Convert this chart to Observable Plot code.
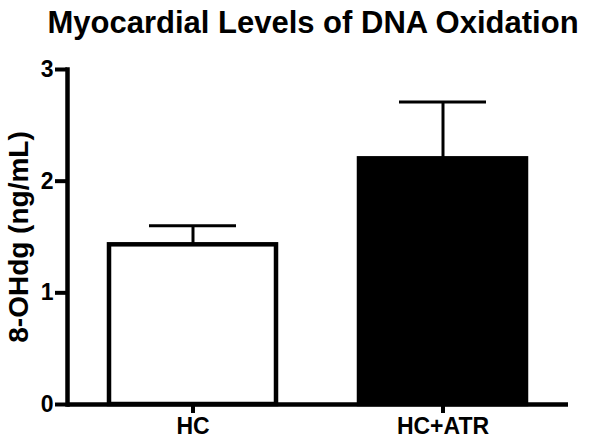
<!DOCTYPE html>
<html>
<head>
<meta charset="utf-8">
<script src="https://cdn.jsdelivr.net/npm/d3@7"></script>
<script src="https://cdn.jsdelivr.net/npm/@observablehq/plot@0.6"></script>
<style>
  html, body { margin: 0; padding: 0; background: #fff; }
  #chart svg { display: block; }
</style>
</head>
<body>
<div id="chart"></div>
<script>
const titleText = "Myocardial Levels of DNA Oxidation";
const yLabel = "8-OHdg (ng/mL)";
const categories = ["HC", "HC+ATR"];
const means = [1.43, 2.20];
const errors = [0.17, 0.51];
const barFills = ["white", "black"];
const yTicks = [0, 1, 2, 3];

const data = categories.map((c, i) => ({
  group: c,
  mean: means[i],
  upper: means[i] + errors[i],
  fill: barFills[i]
}));

const chart = Plot.plot({
  width: 596,
  height: 443,
  marginTop: 69,
  marginBottom: 39,
  marginLeft: 67,
  marginRight: 28,
  style: { fontFamily: "'Liberation Sans', Arial, Helvetica, sans-serif", fontWeight: "bold", fontSize: "22px", color: "black", background: "white" },
  x: { domain: categories, paddingInner: 0.33, paddingOuter: 0.167 },
  y: { domain: [0, 3] },
  color: { type: "identity" },
  marks: [
    Plot.barY(data, { x: "group", y: "mean", fill: "fill", stroke: "black", strokeWidth: 4.5 }),
    Plot.ruleX(data, { x: "group", y1: "mean", y2: "upper", stroke: "black", strokeWidth: 3 }),
    Plot.tickY(data, { x: "group", y: "upper", stroke: "black", strokeWidth: 3, insetLeft: 40, insetRight: 40 }),
    Plot.ruleY([0], { stroke: "black", strokeWidth: 4.5 }),
    Plot.frame({ anchor: "left", stroke: "black", strokeWidth: 4.5 }),
    Plot.axisY({ ticks: yTicks, tickFormat: "d", tickSize: 12, tickPadding: 2, strokeWidth: 4, fontSize: 23, label: null }),
    Plot.axisX({ tickSize: 9, tickPadding: 4, strokeWidth: 4, fontSize: 23, label: null }),
    Plot.text([yLabel], { frameAnchor: "left", textAnchor: "middle", rotate: -90, dx: -48, dy: 0, fontSize: 28, fontWeight: "bold", fill: "black" }),
    Plot.text([titleText], { frameAnchor: "top", textAnchor: "middle", dx: -5, dy: -59, fontSize: 31, fontWeight: "bold", fill: "black" })
  ]
});
document.getElementById("chart").appendChild(chart);
</script>
</body>
</html>
